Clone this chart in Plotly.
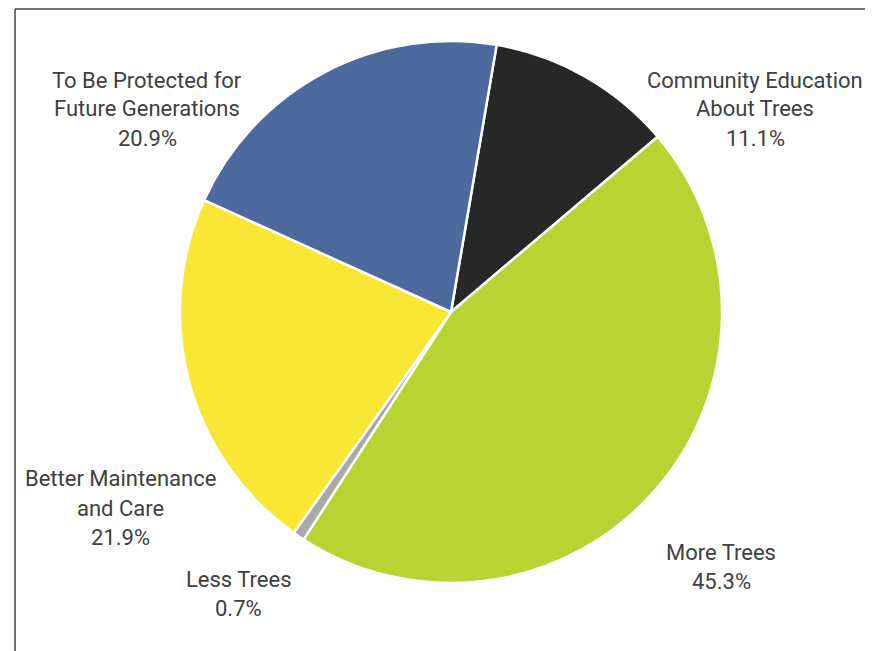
import plotly.graph_objects as go

categories = ["Community Education About Trees", "More Trees", "Less Trees",
              "Better Maintenance and Care", "To Be Protected for Future Generations"]
values = [11.1, 45.3, 0.7, 21.9, 20.9]
label_lines = [["Community Education", "About Trees"], ["More Trees"], ["Less Trees"],
               ["Better Maintenance", "and Care"], ["To Be Protected for", "Future Generations"]]
colors = ["#262827", "#b8d433", "#a9a9a9", "#f9e733", "#4d6a9e"]

OFF = 8  # page body offset
W, H = 873 - OFF, 651 - OFF
cx, cy, r = 451 - OFF, 312 - OFF, 271
# label anchor positions (pixels in the screenshot, layout only)
label_pos = [(755, 109), (721, 567), (239, 594), (121, 508), (147, 109)]
line_gap = 29

fig = go.Figure(go.Pie(
    labels=categories, values=values, sort=False, direction="clockwise",
    rotation=9.7, marker=dict(colors=colors, line=dict(color="white", width=2.5)),
    textinfo="none", hoverinfo="label+percent", showlegend=False,
    domain=dict(x=[(cx - r) / W, (cx + r) / W], y=[(H - cy - r) / H, (H - cy + r) / H]),
))

annotations = []
for lines, v, (px, py) in zip(label_lines, values, label_pos):
    all_lines = lines + [f"{v:.1f}%"]
    n = len(all_lines)
    for i, t in enumerate(all_lines):
        yy = py + (i - (n - 1) / 2) * line_gap - OFF
        annotations.append(dict(x=(px - OFF) / W, y=1 - yy / H, xref="paper", yref="paper",
                                text=t, showarrow=False, xanchor="center", yanchor="middle",
                                font=dict(family="Roboto", size=22, color="#404040")))

fx, fy = 15 - OFF, 9 - OFF
fig.update_layout(
    width=W, height=H, margin=dict(l=0, r=0, t=0, b=0),
    paper_bgcolor="white", plot_bgcolor="white",
    annotations=annotations,
    shapes=[
        dict(type="line", xref="paper", yref="paper", x0=fx / W, x1=1.0, y0=1 - fy / H, y1=1 - fy / H,
             line=dict(color="#444444", width=1.5)),
        dict(type="line", xref="paper", yref="paper", x0=fx / W, x1=fx / W, y0=1 - fy / H, y1=0.0,
             line=dict(color="#444444", width=1.5)),
    ],
)

fig.write_html("out.html")
